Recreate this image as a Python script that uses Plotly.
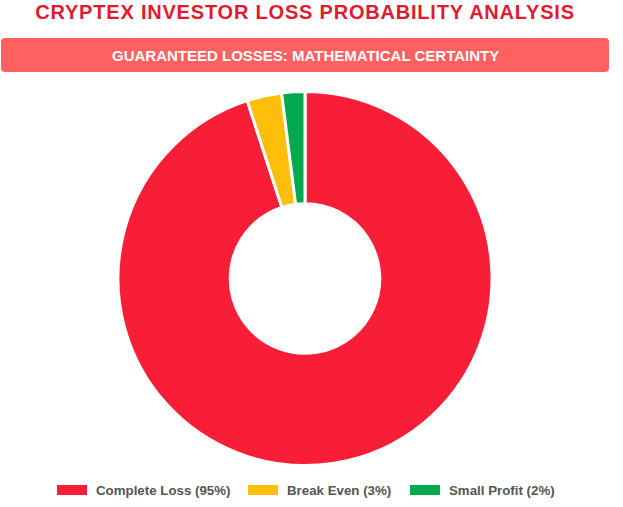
import plotly.graph_objects as go

W = 623
H = 507

# data
labels = ['Complete Loss (95%)', 'Break Even (3%)', 'Small Profit (2%)']
values = [95, 3, 2]
colors = ['#F81E38', '#FFBE0A', '#04A84F']

title_text = 'CRYPTEX INVESTOR LOSS PROBABILITY ANALYSIS'
banner_text = 'GUARANTEED LOSSES: MATHEMATICAL CERTAINTY'


def px(x):
    return x / W


def py(y):
    return 1 - y / H


def rounded_rect(x0, y0, x1, y1, r):
    return (
        f'M {px(x0 + r)} {py(y0)} L {px(x1 - r)} {py(y0)} '
        f'Q {px(x1)} {py(y0)} {px(x1)} {py(y0 + r)} L {px(x1)} {py(y1 - r)} '
        f'Q {px(x1)} {py(y1)} {px(x1 - r)} {py(y1)} L {px(x0 + r)} {py(y1)} '
        f'Q {px(x0)} {py(y1)} {px(x0)} {py(y1 - r)} L {px(x0)} {py(y0 + r)} '
        f'Q {px(x0)} {py(y0)} {px(x0 + r)} {py(y0)} Z'
    )


fig = go.Figure(go.Pie(
    labels=labels,
    values=values,
    hole=0.40,
    sort=False,
    direction='clockwise',
    rotation=0,
    textinfo='none',
    marker=dict(colors=colors, line=dict(color='white', width=3)),
    domain=dict(x=[px(118), px(492)], y=[py(465.5), py(91.5)]),
    showlegend=False,
))

shapes = [dict(type='path', xref='paper', yref='paper', path=rounded_rect(1, 38, 609, 72, 4),
               fillcolor='#FF6060', line_width=0, layer='below')]
annotations = [
    dict(text=f'<b>{title_text}</b>', x=px(305), y=py(12), xref='paper', yref='paper', showarrow=False,
         xanchor='center', yanchor='middle', font=dict(family='Liberation Sans', size=20, color='#E3192F')),
    dict(text=f'<b>{banner_text}</b>', x=px(305), y=py(55), xref='paper', yref='paper', showarrow=False,
         xanchor='center', yanchor='middle', font=dict(family='Liberation Sans', size=15, color='white')),
]

# legend drawn by hand, swatches are wide rectangles
swatch_x = [57, 248, 410]
for lab, col, sx in zip(labels, colors, swatch_x):
    shapes.append(dict(type='rect', xref='paper', yref='paper', x0=px(sx), x1=px(sx + 30), y0=py(495), y1=py(485),
                       fillcolor=col, line_width=0))
    annotations.append(dict(text=f'<b>{lab}</b>', x=px(sx + 37), y=py(490), xref='paper', yref='paper',
                            showarrow=False, xanchor='left', yanchor='middle',
                            font=dict(family='Liberation Sans', size=13.3, color='#555555')))

fig.update_layout(
    width=W,
    height=H,
    margin=dict(l=0, r=0, t=0, b=0),
    paper_bgcolor='white',
    shapes=shapes,
    annotations=annotations,
)

spacing = """
document.body.style.margin = '0';
var a = document.querySelectorAll('.annotation-text');
if (a.length) { a[0].style.letterSpacing = '0.8px'; }
"""
fig.write_html("out.html", post_script=spacing, config=dict(displayModeBar=False))
